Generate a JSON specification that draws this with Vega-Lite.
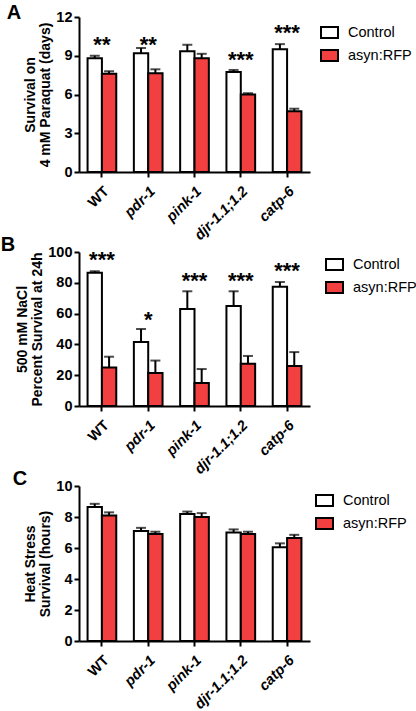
{
  "$schema": "https://vega.github.io/schema/vega-lite/v6.json",
  "background": "white",
  "padding": {"left": 0, "top": 3, "right": 0, "bottom": 0},
  "bounds": "flush",
  "spacing": 80,
  "config": {
    "view": {"stroke": null},
    "font": "Liberation Sans",
    "axis": {
      "domainColor": "black", "domainWidth": 2, "tickColor": "black", "tickWidth": 2, "tickSize": 5,
      "labelColor": "black", "labelFont": "Liberation Sans", "labelFontWeight": "bold", "labelFontSize": 14.5, "labelOverlap": false,
      "titleColor": "black", "titleFont": "Liberation Sans", "titleFontWeight": "bold", "titleFontSize": 14, "titleLineHeight": 15,
      "grid": false
    },
    "axisX": {"labelAngle": -45, "labelFontSize": 14.5, "labelPadding": 7, "title": null},
    "axisY": {"titlePadding": 3},
    "legend": {
      "labelFont": "Liberation Sans", "labelFontSize": 14.5, "labelColor": "black",
      "symbolType": "M-1,-0.65H1V0.65H-1Z", "symbolSize": 289, "symbolStrokeColor": "black", "symbolStrokeWidth": 2,
      "rowPadding": 2, "labelOffset": 9, "padding": 0, "orient": "none"
    },
    "title": {"anchor": "start", "frame": "bounds", "fontSize": 20, "fontWeight": "bold", "font": "Liberation Sans", "color": "black", "baseline": "alphabetic"}
  },
  "datasets": {
    "A": [
      {"gene": "WT", "group": "Control", "value": 8.8, "upper": 9.0},
      {"gene": "WT", "group": "asyn:RFP", "value": 7.6, "upper": 7.8},
      {"gene": "pdr-1", "group": "Control", "value": 9.2, "upper": 9.6},
      {"gene": "pdr-1", "group": "asyn:RFP", "value": 7.65, "upper": 7.95},
      {"gene": "pink-1", "group": "Control", "value": 9.35, "upper": 9.85},
      {"gene": "pink-1", "group": "asyn:RFP", "value": 8.8, "upper": 9.15},
      {"gene": "djr-1.1;1.2", "group": "Control", "value": 7.75, "upper": 7.9},
      {"gene": "djr-1.1;1.2", "group": "asyn:RFP", "value": 6.0, "upper": 6.1},
      {"gene": "catp-6", "group": "Control", "value": 9.5, "upper": 9.9},
      {"gene": "catp-6", "group": "asyn:RFP", "value": 4.7, "upper": 4.9}
    ],
    "Astars": [
      {"gene": "WT", "star": "**", "y": 10.2},
      {"gene": "pdr-1", "star": "**", "y": 10.2},
      {"gene": "djr-1.1;1.2", "star": "***", "y": 9.05},
      {"gene": "catp-6", "star": "***", "y": 11.15}
    ],
    "B": [
      {"gene": "WT", "group": "Control", "value": 86.5, "upper": 87.5},
      {"gene": "WT", "group": "asyn:RFP", "value": 25, "upper": 32},
      {"gene": "pdr-1", "group": "Control", "value": 41.5, "upper": 50},
      {"gene": "pdr-1", "group": "asyn:RFP", "value": 21.5, "upper": 29.5},
      {"gene": "pink-1", "group": "Control", "value": 63, "upper": 74.5},
      {"gene": "pink-1", "group": "asyn:RFP", "value": 15, "upper": 24},
      {"gene": "djr-1.1;1.2", "group": "Control", "value": 65, "upper": 74.5},
      {"gene": "djr-1.1;1.2", "group": "asyn:RFP", "value": 27.5, "upper": 32.5},
      {"gene": "catp-6", "group": "Control", "value": 77.5, "upper": 80.5},
      {"gene": "catp-6", "group": "asyn:RFP", "value": 26, "upper": 35}
    ],
    "Bstars": [
      {"gene": "WT", "star": "***", "y": 98},
      {"gene": "pdr-1", "star": "*", "y": 59},
      {"gene": "pink-1", "star": "***", "y": 84.5},
      {"gene": "djr-1.1;1.2", "star": "***", "y": 84.5},
      {"gene": "catp-6", "star": "***", "y": 91}
    ],
    "C": [
      {"gene": "WT", "group": "Control", "value": 8.65, "upper": 8.85},
      {"gene": "WT", "group": "asyn:RFP", "value": 8.1, "upper": 8.3},
      {"gene": "pdr-1", "group": "Control", "value": 7.1, "upper": 7.3},
      {"gene": "pdr-1", "group": "asyn:RFP", "value": 6.9, "upper": 7.05},
      {"gene": "pink-1", "group": "Control", "value": 8.2, "upper": 8.35},
      {"gene": "pink-1", "group": "asyn:RFP", "value": 8.0, "upper": 8.25},
      {"gene": "djr-1.1;1.2", "group": "Control", "value": 7.0, "upper": 7.2},
      {"gene": "djr-1.1;1.2", "group": "asyn:RFP", "value": 6.9, "upper": 7.05},
      {"gene": "catp-6", "group": "Control", "value": 6.05, "upper": 6.3},
      {"gene": "catp-6", "group": "asyn:RFP", "value": 6.65, "upper": 6.85}
    ]
  },
  "vconcat": [
    {
      "title": {"text": "A", "dx": -17, "offset": -14},
      "width": 231, "height": 155,
      "layer": [
        {
          "data": {"name": "A"},
          "mark": {"type": "bar", "stroke": "black", "strokeWidth": 2},
          "encoding": {
            "x": {"field": "gene", "type": "nominal", "sort": null,
                  "scale": {"paddingInner": 0.38, "paddingOuter": 0.185},
                  "axis": {"labelFontStyle": {"condition": {"test": "datum.value == 'WT'", "value": "normal"}, "value": "italic"}}},
            "xOffset": {"field": "group", "type": "nominal", "sort": ["Control", "asyn:RFP"], "scale": {"paddingInner": 0}},
            "y": {"field": "value", "type": "quantitative", "scale": {"domain": [0, 12], "nice": false}, "axis": {"values": [0, 3, 6, 9, 12], "title": ["Survival on", "4 mM Paraquat (days)"]}},
            "fill": {"field": "group", "type": "nominal", "scale": {"domain": ["Control", "asyn:RFP"], "range": ["white", "#f23f3f"]}, "legend": {"title": null, "legendX": 241, "legendY": 6}}
          }
        },
        {
          "data": {"name": "A"},
          "mark": {"type": "rule", "color": "black", "strokeWidth": 2},
          "encoding": {
            "x": {"field": "gene", "type": "nominal", "sort": null},
            "xOffset": {"field": "group", "type": "nominal", "sort": ["Control", "asyn:RFP"]},
            "y": {"field": "value", "type": "quantitative", "axis": {"values": [0, 3, 6, 9, 12], "title": ["Survival on", "4 mM Paraquat (days)"]}},
            "y2": {"field": "upper"}
          }
        },
        {
          "data": {"name": "A"},
          "mark": {"type": "tick", "color": "black", "thickness": 2, "size": 10, "orient": "horizontal"},
          "encoding": {
            "x": {"field": "gene", "type": "nominal", "sort": null},
            "xOffset": {"field": "group", "type": "nominal", "sort": ["Control", "asyn:RFP"]},
            "y": {"field": "upper", "type": "quantitative", "axis": {"values": [0, 3, 6, 9, 12], "title": ["Survival on", "4 mM Paraquat (days)"]}}
          }
        },
        {
          "data": {"name": "Astars"},
          "mark": {"type": "text", "fontSize": 22, "fontWeight": "bold", "color": "black", "baseline": "middle", "dy": 5},
          "encoding": {
            "x": {"field": "gene", "type": "nominal", "sort": null},
            "y": {"field": "y", "type": "quantitative", "axis": {"values": [0, 3, 6, 9, 12], "title": ["Survival on", "4 mM Paraquat (days)"]}},
            "text": {"field": "star"}
          }
        }
      ]
    },
    {
      "title": {"text": "B", "dx": -15, "offset": -11},
      "width": 231, "height": 154,
      "layer": [
        {
          "data": {"name": "B"},
          "mark": {"type": "bar", "stroke": "black", "strokeWidth": 2},
          "encoding": {
            "x": {"field": "gene", "type": "nominal", "sort": null,
                  "scale": {"paddingInner": 0.38, "paddingOuter": 0.185},
                  "axis": {"labelFontStyle": {"condition": {"test": "datum.value == 'WT'", "value": "normal"}, "value": "italic"}}},
            "xOffset": {"field": "group", "type": "nominal", "sort": ["Control", "asyn:RFP"], "scale": {"paddingInner": 0}},
            "y": {"field": "value", "type": "quantitative", "scale": {"domain": [0, 100], "nice": false}, "axis": {"values": [0, 20, 40, 60, 80, 100], "title": ["500 mM NaCl", "Percent Survival at 24h"]}},
            "fill": {"field": "group", "type": "nominal", "scale": {"domain": ["Control", "asyn:RFP"], "range": ["white", "#f23f3f"]}, "legend": {"title": null, "legendX": 246, "legendY": 3}}
          }
        },
        {
          "data": {"name": "B"},
          "mark": {"type": "rule", "color": "black", "strokeWidth": 2},
          "encoding": {
            "x": {"field": "gene", "type": "nominal", "sort": null},
            "xOffset": {"field": "group", "type": "nominal", "sort": ["Control", "asyn:RFP"]},
            "y": {"field": "value", "type": "quantitative", "axis": {"values": [0, 20, 40, 60, 80, 100], "title": ["500 mM NaCl", "Percent Survival at 24h"]}},
            "y2": {"field": "upper"}
          }
        },
        {
          "data": {"name": "B"},
          "mark": {"type": "tick", "color": "black", "thickness": 2, "size": 10, "orient": "horizontal"},
          "encoding": {
            "x": {"field": "gene", "type": "nominal", "sort": null},
            "xOffset": {"field": "group", "type": "nominal", "sort": ["Control", "asyn:RFP"]},
            "y": {"field": "upper", "type": "quantitative", "axis": {"values": [0, 20, 40, 60, 80, 100], "title": ["500 mM NaCl", "Percent Survival at 24h"]}}
          }
        },
        {
          "data": {"name": "Bstars"},
          "mark": {"type": "text", "fontSize": 22, "fontWeight": "bold", "color": "black", "baseline": "middle", "dy": 5},
          "encoding": {
            "x": {"field": "gene", "type": "nominal", "sort": null},
            "y": {"field": "y", "type": "quantitative", "axis": {"values": [0, 20, 40, 60, 80, 100], "title": ["500 mM NaCl", "Percent Survival at 24h"]}},
            "text": {"field": "star"}
          }
        }
      ]
    },
    {
      "title": {"text": "C", "dx": -11, "offset": -11},
      "width": 231, "height": 155,
      "layer": [
        {
          "data": {"name": "C"},
          "mark": {"type": "bar", "stroke": "black", "strokeWidth": 2},
          "encoding": {
            "x": {"field": "gene", "type": "nominal", "sort": null,
                  "scale": {"paddingInner": 0.38, "paddingOuter": 0.185},
                  "axis": {"labelFontStyle": {"condition": {"test": "datum.value == 'WT'", "value": "normal"}, "value": "italic"}}},
            "xOffset": {"field": "group", "type": "nominal", "sort": ["Control", "asyn:RFP"], "scale": {"paddingInner": 0}},
            "y": {"field": "value", "type": "quantitative", "scale": {"domain": [0, 10], "nice": false}, "axis": {"values": [0, 2, 4, 6, 8, 10], "title": ["Heat Stress", "Survival (hours)"]}},
            "fill": {"field": "group", "type": "nominal", "scale": {"domain": ["Control", "asyn:RFP"], "range": ["white", "#f23f3f"]}, "legend": {"title": null, "legendX": 236, "legendY": 5}}
          }
        },
        {
          "data": {"name": "C"},
          "mark": {"type": "rule", "color": "black", "strokeWidth": 2},
          "encoding": {
            "x": {"field": "gene", "type": "nominal", "sort": null},
            "xOffset": {"field": "group", "type": "nominal", "sort": ["Control", "asyn:RFP"]},
            "y": {"field": "value", "type": "quantitative", "axis": {"values": [0, 2, 4, 6, 8, 10], "title": ["Heat Stress", "Survival (hours)"]}},
            "y2": {"field": "upper"}
          }
        },
        {
          "data": {"name": "C"},
          "mark": {"type": "tick", "color": "black", "thickness": 2, "size": 10, "orient": "horizontal"},
          "encoding": {
            "x": {"field": "gene", "type": "nominal", "sort": null},
            "xOffset": {"field": "group", "type": "nominal", "sort": ["Control", "asyn:RFP"]},
            "y": {"field": "upper", "type": "quantitative", "axis": {"values": [0, 2, 4, 6, 8, 10], "title": ["Heat Stress", "Survival (hours)"]}}
          }
        }
      ]
    }
  ],
  "resolve": {"scale": {"fill": "independent"}, "legend": {"fill": "independent"}}
}
